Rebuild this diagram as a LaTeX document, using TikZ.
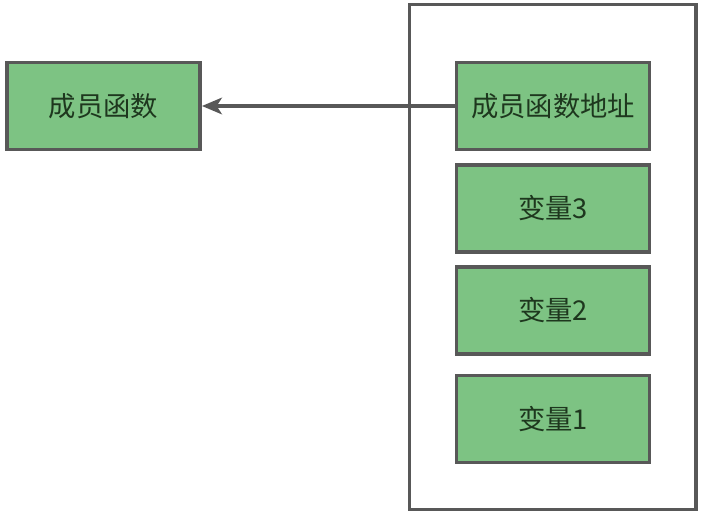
\documentclass[tikz,border=0pt]{standalone}
\usepackage{fontspec}
\usepackage{tikz}
\usetikzlibrary{arrows.meta,positioning}
\newfontfamily\cjk{Noto Sans CJK SC}
\definecolor{boxgreen}{RGB}{125,195,131}
\definecolor{boxline}{RGB}{88,88,88}
\definecolor{boxtext}{RGB}{30,55,30}

\begin{document}
\begin{tikzpicture}[x=0.75pt,y=-0.75pt,
  cell/.style={rectangle,draw=boxline,line width=2.7pt,fill=boxgreen,minimum width=145pt,minimum height=65pt,font=\cjk\fontsize{20.5}{24}\selectfont,text=boxtext,inner sep=0pt},
  frame/.style={rectangle,draw=boxline,line width=2.5pt,minimum width=215pt,minimum height=379pt,inner sep=0pt},
  link/.style={draw=boxline,line width=2.4pt,-{Stealth[length=15pt,width=12.5pt,inset=4pt,fill=boxline]}}]
\useasboundingbox (0,0) rectangle (701,514);
\node[frame] (obj) at (552.5,257) {};
\node[cell] (fn) at (103.5,106) {成员函数};
\node[cell] (addr) at (553,106) {成员函数地址};
\node[cell] (v3) at (553,208.5) {变量3};
\node[cell] (v2) at (553,310.5) {变量2};
\node[cell] (v1) at (553,419) {变量1};
\draw[link] (addr.west)--(fn.east);
\end{tikzpicture}
\end{document}
